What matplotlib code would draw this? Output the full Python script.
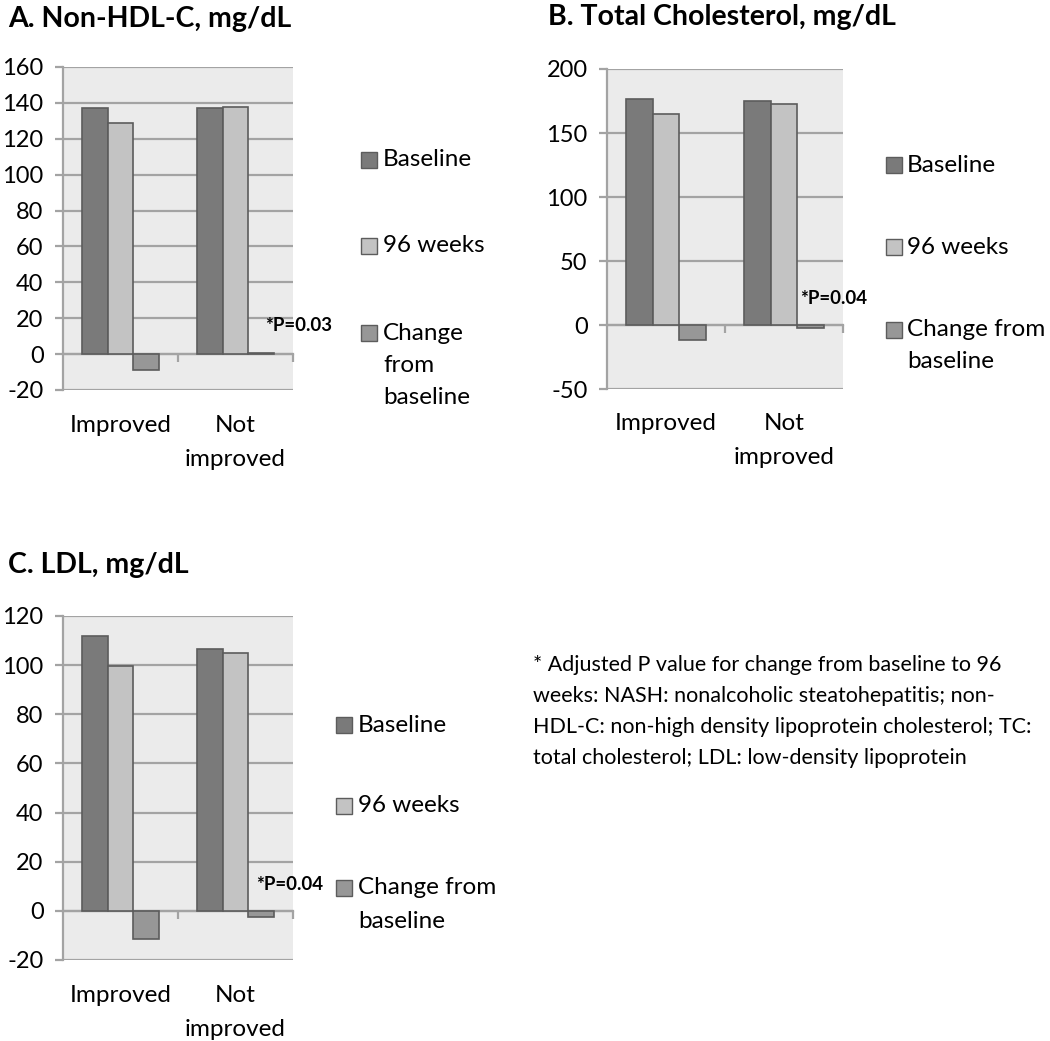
import numpy as np
import matplotlib
matplotlib.use('Agg')
import matplotlib.pyplot as plt
from matplotlib.patches import Rectangle

plt.rcParams['font.family'] = ['Lato', 'DejaVu Sans']
plt.rcParams['axes.unicode_minus'] = False

# data
categories = ['Improved', 'Not\nimproved']
series_colors = ['#7a7a7a', '#c3c3c3', '#979797']

nonhdl_baseline = [137.4, 137.0]
nonhdl_96wk = [128.7, 137.6]
nonhdl_change = [-8.9, 0.6]

tc_baseline = [176.6, 175.0]
tc_96wk = [165.2, 172.7]
tc_change = [-12.0, -2.6]

ldl_baseline = [111.9, 106.5]
ldl_96wk = [99.8, 104.8]
ldl_change = [-11.4, -2.4]

nonhdl_ticks = [-20, 0, 20, 40, 60, 80, 100, 120, 140, 160]
tc_ticks = [-50, 0, 50, 100, 150, 200]
ldl_ticks = [-20, 0, 20, 40, 60, 80, 100, 120]

titles = ['A. Non-HDL-C, mg/dL', 'B. Total Cholesterol, mg/dL', 'C. LDL, mg/dL']
p_labels = ['*P=0.03', '*P=0.04', '*P=0.04']
legend_a = ['Baseline', '96 weeks', 'Change\nfrom\nbaseline']
legend_bc = ['Baseline', '96 weeks', 'Change from\nbaseline']

footnote = ['* Adjusted P value for change from baseline to 96',
            'weeks: NASH: nonalcoholic steatohepatitis; non-',
            'HDL-C: non-high density lipoprotein cholesterol; TC:',
            'total cholesterol; LDL: low-density lipoprotein']

W, H = 1050, 1041
EDGE = '#5c5c5c'
GRID = '#a3a3a3'
FS = 17.5

fig = plt.figure(figsize=(W / 100, H / 100), dpi=100)


def add_axes_px(left, top, right, bottom):
    return fig.add_axes([left / W, 1 - bottom / H, (right - left) / W, (bottom - top) / H])


def draw_panel(ax, values, ticks, p_label, p_xy):
    x = np.arange(len(categories))
    w = 0.226
    for k, vals in enumerate(values):
        ax.bar(x + (k - 1) * w, vals, w, color=series_colors[k],
               edgecolor=EDGE, linewidth=1.2, zorder=3)
    ax.set_xlim(-0.5, 1.5)
    ax.set_ylim(ticks[0], ticks[-1])
    ax.set_yticks(ticks)
    ax.set_facecolor('#ebebeb')
    ax.grid(axis='y', color=GRID, lw=1.6, zorder=0)
    ax.set_axisbelow(True)
    for s in ['top', 'right']:
        ax.spines[s].set_visible(False)
    ax.spines['left'].set_color(GRID)
    ax.spines['left'].set_linewidth(1.6)
    ax.spines['bottom'].set_position(('data', 0))
    ax.spines['bottom'].set_color(GRID)
    ax.spines['bottom'].set_linewidth(1.6)
    ax.set_xticks([])
    ax.set_xticks([0.5, 1.5], minor=True)
    ax.tick_params(axis='x', which='minor', length=6, width=1.6, color=GRID,
                   direction='out', labelbottom=False)
    ax.tick_params(axis='y', length=6, width=1.6, color=GRID, pad=8,
                   labelsize=17, labelcolor='black')
    # category labels below the plot area
    for i, cat in enumerate(categories):
        for j, line in enumerate(cat.split('\n')):
            ax.annotate(line, xy=(i, 0), xycoords=('data', 'axes fraction'),
                        xytext=(0, -35 - 34 * j), textcoords='offset pixels',
                        ha='center', va='center', fontsize=FS)
    ax.text(p_xy[0], p_xy[1], p_label, ha='center', va='center',
            fontweight='bold', fontsize=13.5, zorder=5)


def draw_legend(x_sq, x_txt, rows, labels, lsp):
    for y, lab, col in zip(rows, labels, series_colors):
        fig.patches.append(Rectangle((x_sq / W, 1 - (y + 8) / H), 16 / W, 16 / H,
                                     transform=fig.transFigure, facecolor=col,
                                     edgecolor=EDGE, lw=1))
        for j, line in enumerate(lab.split('\n')):
            fig.text(x_txt / W, 1 - (y + j * lsp) / H, line, va='center',
                     ha='left', fontsize=FS)


# A
ax_a = add_axes_px(63, 67, 293, 390)
draw_panel(ax_a, [nonhdl_baseline, nonhdl_96wk, nonhdl_change], nonhdl_ticks,
           p_labels[0], (1.55, 16.2))
draw_legend(361, 383, [160, 246, 333], legend_a, 32.5)
fig.text(8 / W, 1 - 19 / H, titles[0], fontsize=20.5, fontweight='bold', va='center')

# B
ax_b = add_axes_px(607, 69, 843, 389)
draw_panel(ax_b, [tc_baseline, tc_96wk, tc_change], tc_ticks,
           p_labels[1], (1.42, 20.9))
draw_legend(886, 907, [165, 247, 330], legend_bc, 31)
fig.text(548 / W, 1 - 17 / H, titles[1], fontsize=20.5, fontweight='bold', va='center')

# C
ax_c = add_axes_px(63, 616, 293, 960)
draw_panel(ax_c, [ldl_baseline, ldl_96wk, ldl_change], ldl_ticks,
           p_labels[2], (1.47, 10.9))
draw_legend(336, 358, [725, 806, 888], legend_bc, 33)
fig.text(8 / W, 1 - 565 / H, titles[2], fontsize=20.5, fontweight='bold', va='center')

# footnote
for j, line in enumerate(footnote):
    fig.text(533 / W, 1 - (665 + 31 * j) / H, line, fontsize=15.5, va='center', ha='left')

fig.savefig('out.png', dpi=100)
